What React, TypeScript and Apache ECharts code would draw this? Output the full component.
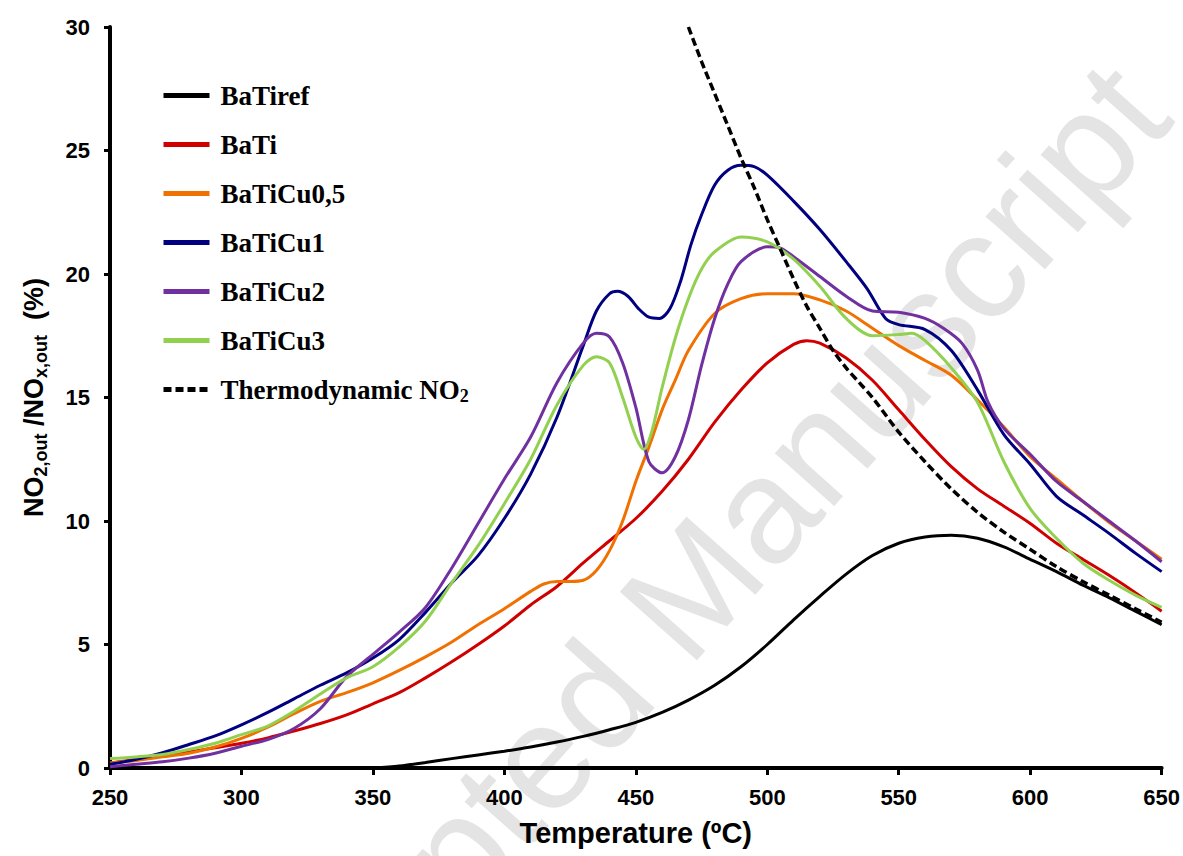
import React, { useEffect, useRef } from "react";
import * as echarts from "echarts";

const seriesNames = ["BaTiref", "BaTi", "BaTiCu0,5", "BaTiCu1", "BaTiCu2", "BaTiCu3", "Thermodynamic NO2"];
const seriesColors = ["#000000", "#d00000", "#f07000", "#000080", "#7030a0", "#92d050", "#000000"];

const xTicks = [250, 300, 350, 400, 450, 500, 550, 600, 650];
const yTicks = [0, 5, 10, 15, 20, 25, 30];

const batiref = [[350,0],[360,0.08],[370,0.22],[380,0.38],[390,0.53],[400,0.68],[410,0.85],[420,1.05],[430,1.28],[440,1.55],[450,1.85],[460,2.25],[470,2.75],[480,3.35],[490,4.1],[500,5.0],[510,6.0],[520,6.95],[530,7.85],[540,8.6],[550,9.1],[560,9.35],[570,9.42],[580,9.3],[590,8.95],[600,8.45],[610,7.95],[620,7.4],[630,6.9],[640,6.35],[650,5.8]];

const bati = [[250,0.2],[260,0.35],[270,0.5],[280,0.65],[290,0.82],[300,1.0],[310,1.22],[320,1.5],[330,1.8],[340,2.15],[350,2.6],[360,3.05],[370,3.65],[380,4.3],[390,5.0],[400,5.75],[410,6.6],[420,7.35],[430,8.3],[440,9.2],[450,10.1],[460,11.2],[470,12.5],[480,14.0],[490,15.3],[500,16.4],[510,17.15],[515,17.3],[520,17.2],[530,16.6],[540,15.7],[550,14.5],[560,13.3],[570,12.2],[580,11.3],[590,10.6],[600,9.9],[610,9.1],[620,8.45],[630,7.8],[640,7.1],[650,6.35]];

const baticu05 = [[250,0.2],[260,0.3],[270,0.45],[280,0.6],[290,0.85],[300,1.2],[310,1.65],[320,2.2],[330,2.7],[340,3.05],[350,3.45],[360,3.95],[370,4.5],[380,5.1],[390,5.8],[400,6.45],[410,7.15],[415,7.45],[420,7.55],[425,7.55],[430,7.6],[435,8.0],[440,8.8],[445,10.0],[450,11.6],[455,13.0],[460,14.5],[465,15.7],[470,16.9],[480,18.4],[490,19.0],[500,19.2],[510,19.2],[520,18.95],[530,18.5],[540,17.8],[550,17.1],[560,16.5],[570,15.9],[580,14.9],[590,13.8],[600,12.6],[610,11.7],[620,10.8],[630,9.95],[640,9.2],[650,8.45]];

const baticu1 = [[250,0.15],[260,0.35],[270,0.62],[280,0.95],[290,1.3],[300,1.75],[310,2.25],[320,2.8],[330,3.35],[340,3.85],[350,4.45],[360,5.2],[370,6.3],[380,7.5],[390,8.6],[400,10.1],[410,11.9],[420,14.2],[430,17.1],[435,18.5],[440,19.2],[443,19.3],[447,19.1],[451,18.6],[455,18.25],[459,18.2],[463,18.6],[467,19.7],[471,21.2],[475,22.4],[480,23.6],[485,24.2],[490,24.4],[495,24.35],[500,24.0],[510,22.95],[520,21.8],[530,20.5],[538,19.4],[545,18.2],[550,17.95],[560,17.75],[570,16.9],[580,15.3],[590,13.5],[600,12.3],[610,11.0],[620,10.25],[630,9.5],[640,8.7],[650,7.95]];

const baticu2 = [[250,0.05],[260,0.15],[270,0.25],[280,0.4],[290,0.6],[300,0.88],[310,1.15],[320,1.6],[330,2.4],[340,3.7],[350,4.6],[360,5.5],[370,6.5],[380,8.1],[390,9.9],[400,11.7],[410,13.4],[420,15.6],[430,17.2],[435,17.6],[440,17.45],[445,16.4],[450,14.6],[455,12.4],[460,11.95],[465,12.6],[470,14.1],[475,16.3],[480,18.2],[485,19.6],[490,20.5],[500,21.1],[505,21.05],[510,20.7],[520,19.9],[530,19.1],[540,18.5],[550,18.45],[560,18.2],[567,17.8],[574,17.2],[580,16.1],[584,14.8],[590,13.75],[600,12.7],[610,11.6],[620,10.8],[630,10.0],[640,9.2],[650,8.35]];

const baticu3 = [[250,0.38],[260,0.45],[270,0.55],[280,0.75],[290,1.0],[300,1.35],[310,1.7],[320,2.3],[330,3.0],[340,3.65],[350,4.1],[360,4.9],[370,5.95],[380,7.5],[390,9.0],[400,10.7],[410,12.5],[420,14.7],[430,16.3],[435,16.65],[440,16.4],[445,15.0],[450,13.4],[453,12.9],[456,13.6],[460,15.4],[465,17.4],[470,19.0],[475,20.2],[480,20.9],[490,21.5],[500,21.3],[510,20.6],[520,19.5],[530,18.2],[540,17.5],[550,17.55],[555,17.6],[560,17.3],[570,16.2],[580,14.8],[590,12.4],[600,10.5],[610,9.3],[620,8.3],[630,7.6],[640,7.0],[650,6.5]];

const thermoNO2 = [[470,30.0],[475,28.6],[480,27.3],[485,26.0],[490,24.7],[495,23.5],[500,22.2],[505,21.0],[510,19.8],[515,18.7],[520,17.8],[525,16.9],[530,16.2],[535,15.6],[540,15.0],[550,13.6],[560,12.4],[570,11.3],[580,10.35],[590,9.55],[600,8.85],[610,8.15],[620,7.55],[630,7.0],[640,6.45],[650,5.9]];

const seriesData = [batiref, bati, baticu05, baticu1, baticu2, baticu3, thermoNO2];

const xTitle = "Temperature (ºC)";
const watermark = "Accepted Manuscript";

export default function App() {
  const ref = useRef<HTMLDivElement>(null);
  useEffect(() => {
    document.body.style.margin = "0";
    const chart = echarts.init(ref.current!, null, { renderer: "svg" });
    const tickFont = "'Liberation Sans', Arial, sans-serif";
    const sansFont = "'Liberation Sans', Arial, sans-serif";
    const serifFont = "'Liberation Serif', 'Times New Roman', serif";
    const option: any = {
      animation: false,
      backgroundColor: "#ffffff",
      grid: { left: 110, right: 20, top: 27, bottom: 88, containLabel: false },
      graphic: [
        {
          type: "text",
          x: 672,
          y: 610,
          rotation: 0.843,
          silent: true,
          z: -10,
          style: {
            text: watermark,
            fontSize: 150,
            fontFamily: sansFont,
            fill: "#e4e4e4",
            align: "center",
            verticalAlign: "middle",
          },
        },
      ],
      legend: {
        orient: "vertical",
        left: 156,
        top: 77,
        itemWidth: 46,
        itemHeight: 14,
        itemGap: 22,
        data: seriesNames,
        lineStyle: { width: 5 },
        itemStyle: { opacity: 0, color: "rgba(0,0,0,0)", borderWidth: 0 },
        formatter: (name: string) =>
          name === "Thermodynamic NO2" ? "{a|Thermodynamic NO}{s|2}" : "{a|" + name + "}",
        textStyle: {
          padding: [0, 0, 0, 6],
          rich: {
            a: { fontFamily: serifFont, fontWeight: "bold", fontSize: 27, color: "#000", lineHeight: 30 },
            s: { fontFamily: serifFont, fontWeight: "bold", fontSize: 18, color: "#000", lineHeight: 18, verticalAlign: "bottom" },
          },
        },
      },
      xAxis: {
        type: "value",
        min: 250,
        max: 650,
        interval: 50,
        name: xTitle,
        nameLocation: "middle",
        nameGap: 50,
        nameTextStyle: { fontFamily: sansFont, fontWeight: "bold", fontSize: 29, color: "#000" },
        axisLine: { show: true, onZero: false, lineStyle: { color: "#000", width: 4 } },
        axisTick: { show: true, inside: false, length: 7, lineStyle: { color: "#000", width: 3 } },
        axisLabel: {
          fontFamily: tickFont,
          fontWeight: "bold",
          fontSize: 22,
          color: "#000",
          margin: 18,
          formatter: (v: number) => (xTicks.includes(v) ? String(v) : ""),
        },
        splitLine: { show: false },
      },
      yAxis: {
        type: "value",
        min: 0,
        max: 30,
        interval: 5,
        name: "{m|NO}{s|2,out}{m| /NO}{s|x,out}{m|  (%)}",
        nameLocation: "middle",
        nameGap: 60,
        nameRotate: 90,
        nameTextStyle: {
          rich: {
            m: { fontFamily: sansFont, fontWeight: "bold", fontSize: 27, color: "#000", lineHeight: 32 },
            s: { fontFamily: sansFont, fontWeight: "bold", fontSize: 18, color: "#000", lineHeight: 20, verticalAlign: "bottom" },
          },
        },
        axisLine: { show: true, onZero: false, lineStyle: { color: "#000", width: 4 } },
        axisTick: { show: true, inside: false, length: 6, lineStyle: { color: "#000", width: 3 } },
        axisLabel: {
          fontFamily: tickFont,
          fontWeight: "bold",
          fontSize: 22,
          color: "#000",
          margin: 20,
          formatter: (v: number) => (yTicks.includes(v) ? String(v) : ""),
        },
        splitLine: { show: false },
      },
      series: seriesNames.map((name, i) => ({
        name,
        type: "line",
        data: seriesData[i],
        showSymbol: false,
        symbol: "none",
        smooth: 0.3,
        z: 3,
        lineStyle: {
          color: seriesColors[i],
          width: i === 6 ? 3.5 : 3,
          type: i === 6 ? [8, 4] : "solid",
        },
        itemStyle: { color: seriesColors[i] },
      })),
    };
    chart.setOption(option);
    return () => chart.dispose();
  }, []);
  return <div ref={ref} style={{ width: 1183, height: 856 }} />;
}
